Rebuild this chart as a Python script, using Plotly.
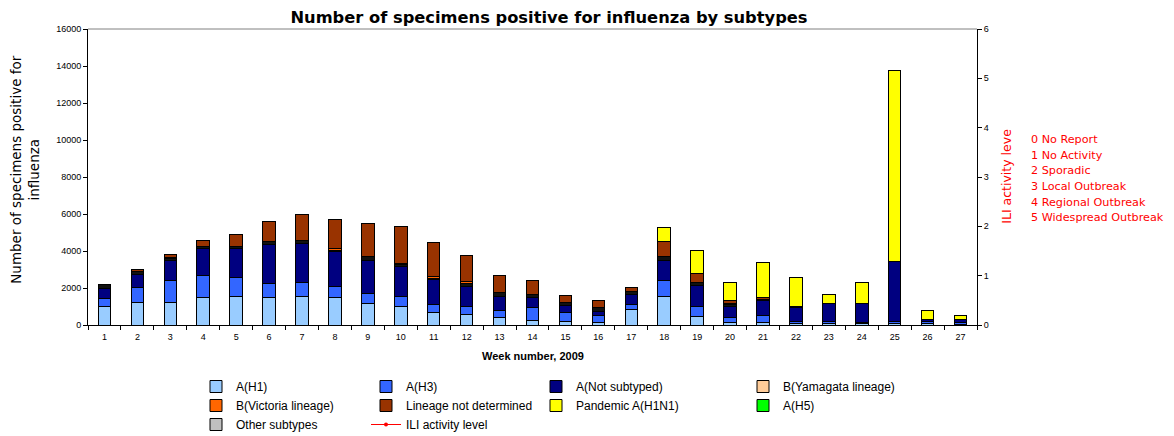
import plotly.graph_objects as go

weeks = [str(i) for i in range(1, 28)]

a_h1 = [1000, 1200, 1200, 1480, 1540, 1480, 1560, 1500, 1180, 1020, 690, 570, 390, 260, 190, 150, 840, 1560, 440, 120, 150, 65, 65, 60, 80, 80, 50]
a_h3 = [420, 840, 1220, 1190, 1020, 740, 720, 590, 500, 500, 400, 450, 400, 670, 470, 350, 270, 850, 580, 270, 360, 140, 140, 100, 120, 120, 80]
a_not_subtyped = [580, 690, 1060, 1460, 1550, 2120, 2120, 1860, 1780, 1650, 1370, 1080, 770, 570, 390, 250, 540, 1100, 1120, 630, 810, 720, 940, 980, 3240, 100, 170]
b_yamagata = [170, 180, 110, 125, 140, 160, 180, 90, 230, 80, 80, 150, 180, 160, 150, 215, 160, 180, 180, 90, 80, 90, 0, 0, 0, 0, 0]
b_victoria = [0, 0, 60, 0, 0, 0, 0, 70, 0, 80, 70, 80, 0, 0, 0, 0, 0, 0, 0, 60, 0, 0, 0, 0, 0, 0, 0]
lineage_nd = [0, 100, 155, 320, 620, 1070, 1380, 1570, 1790, 2000, 1830, 1420, 950, 740, 410, 375, 200, 800, 460, 170, 100, 0, 0, 0, 0, 0, 0]
pandemic = [0, 0, 0, 0, 0, 0, 0, 0, 0, 0, 0, 0, 0, 0, 0, 0, 0, 755, 1240, 940, 1855, 1530, 500, 1135, 10310, 480, 215]
a_h5 = [0] * 27
other_subtypes = [0] * 27
ili_level = [None] * 27

ili_labels = ["0 No Report", "1 No Activity", "2 Sporadic", "3 Local Outbreak",
              "4 Regional Outbreak", "5 Widespread Outbreak"]

W, H = 1174, 436
L, R, T, B = 88, 197, 29, 110.5
PW, PH = W - L - R, H - T - B

def cx(p):
    return p / W

def cy(p):
    return 1 - p / H

fig = go.Figure()
line = dict(color="#000000", width=1)

series = [
    ("A(H1)", a_h1, "#99CCFF", "legend", 1),
    ("A(H3)", a_h3, "#3366FF", "legend2", 1),
    ("A(Not subtyped)", a_not_subtyped, "#000080", "legend3", 1),
    ("B(Yamagata lineage)", b_yamagata, "#111111", None, 1),
    ("B(Victoria lineage)", b_victoria, "#FF6600", "legend", 2),
    ("Lineage not determined", lineage_nd, "#993300", "legend2", 2),
    ("Pandemic A(H1N1)", pandemic, "#FFFF00", "legend3", 2),
    ("A(H5)", a_h5, "#00FF00", "legend4", 2),
    ("Other subtypes", other_subtypes, "#C0C0C0", "legend", 3),
]

for name, vals, color, lg, rank in series:
    kw = dict(x=weeks, y=vals, name=name, marker=dict(color=color, line=line),
              hoverinfo="x+y+name", legendrank=rank)
    if lg is None:
        kw["showlegend"] = False
    else:
        kw["legend"] = lg
    fig.add_trace(go.Bar(**kw))

# legend swatch for B(Yamagata lineage) (its thin segments render dark)
fig.add_trace(go.Bar(x=[weeks[0]], y=[None], name="B(Yamagata lineage)",
                     marker=dict(color="#FFCC99", line=line), legend="legend4",
                     legendrank=1))

fig.add_trace(go.Scatter(x=weeks, y=ili_level, name="ILI activity level", yaxis="y2",
                         mode="lines+markers", line=dict(color="#FF0000", width=1),
                         marker=dict(color="#FF0000", size=4), legend="legend2",
                         legendrank=3))

font = "Liberation Sans, Arial, sans-serif"
leg_common = dict(font=dict(family=font, size=12, color="#000000"),
                  bgcolor="rgba(0,0,0,0)", yanchor="top", xanchor="left",
                  orientation="v", tracegroupgap=0, traceorder="normal",
                  xref="container", yref="container")
ly = cy(372)
fig.update_layout(
    barmode="stack",
    bargap=0.62,
    width=W, height=H,
    margin=dict(l=L, r=R, t=T, b=B, pad=0, autoexpand=False),
    paper_bgcolor="#FFFFFF", plot_bgcolor="#FFFFFF",
    font=dict(family=font, size=9, color="#000000"),
    title=dict(text="<b>Number of specimens positive for influenza by subtypes</b>",
               x=cx(549), xanchor="center", y=1 - 17 / H, yanchor="middle",
               font=dict(family="DejaVu Sans, sans-serif", size=16.3, color="#000000")),
    xaxis=dict(type="category", range=[-0.5, 26.5], showline=True,
               linecolor="#000000", linewidth=1, ticklabelstandoff=3,
               ticks="outside", ticklen=4, tickcolor="#000000", tickson="boundaries",
               showgrid=False, tickfont=dict(size=9), zeroline=False),
    yaxis=dict(range=[0, 16000], dtick=2000, showline=True, linecolor="#000000",
               linewidth=1, ticks="outside", ticklen=4, tickcolor="#000000",
               showgrid=False, zeroline=False, tickfont=dict(size=9), tickformat="d"),
    yaxis2=dict(range=[0, 6], dtick=1, overlaying="y", side="right", showline=True,
                linecolor="#000000", linewidth=1, ticks="outside", ticklen=4,
                tickcolor="#000000", showgrid=False, zeroline=False,
                tickfont=dict(size=9)),
    legend=dict(x=cx(196), y=ly, **leg_common),
    legend2=dict(x=cx(366), y=ly, **leg_common),
    legend3=dict(x=cx(536), y=ly, **leg_common),
    legend4=dict(x=cx(743), y=ly, **leg_common),
)

fig.add_shape(type="line", xref="paper", yref="paper", x0=0, x1=1, y0=1, y1=1,
              line=dict(color="#808080", width=1))

ann = []
ann.append(dict(text="Number of specimens positive for<br>influenza", textangle=-90,
                x=cx(25), y=cy(170), xref="paper", yref="paper", showarrow=False,
                font=dict(family="DejaVu Sans, sans-serif", size=13.5, color="#000000"),
                xanchor="center", yanchor="middle"))
ann.append(dict(text="<b>Week number, 2009</b>", x=cx(533), y=cy(357), xref="paper",
                yref="paper", showarrow=False,
                font=dict(family=font, size=11, color="#000000"),
                xanchor="center", yanchor="middle"))
ann.append(dict(text="ILI activity leve", textangle=-90, x=cx(1007), y=cy(176),
                xref="paper", yref="paper", showarrow=False,
                font=dict(family="DejaVu Sans, sans-serif", size=12.5, color="#FF0000"),
                xanchor="center", yanchor="middle"))
for i, t in enumerate(ili_labels):
    ann.append(dict(text=t, x=cx(1029), y=cy(140 + i * 15.6), xref="paper",
                    yref="paper", showarrow=False, xanchor="left", yanchor="middle",
                    font=dict(family="DejaVu Sans, sans-serif", size=11.2,
                              color="#FF0000")))
# convert container fractions to paper fractions for annotations
for a in ann:
    a["x"] = (a["x"] * W - L) / PW
    a["y"] = (a["y"] * H - B) / PH
fig.update_layout(annotations=ann)

fig.write_html("out.html", config={"displayModeBar": False},
               post_script="document.body.style.margin='0';")
